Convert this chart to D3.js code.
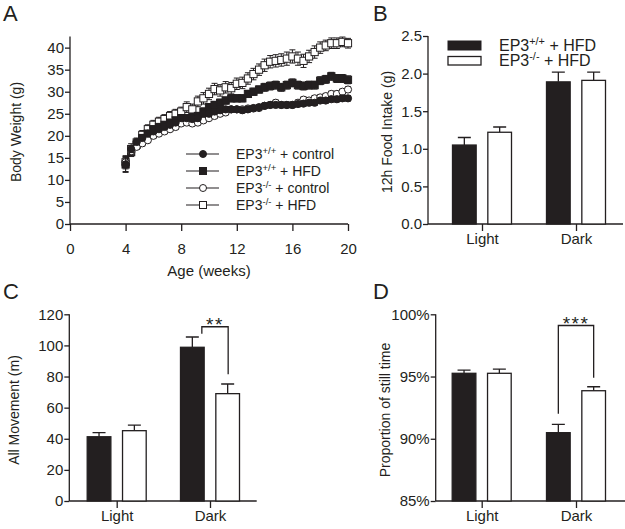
<!DOCTYPE html>
<html><head><meta charset="utf-8">
<script src="https://cdn.jsdelivr.net/npm/d3@7"></script>
<style>
html,body{margin:0;padding:0;background:#fff;}
text{font-family:"Liberation Sans",Arial,sans-serif;fill:#231f20;}
</style></head>
<body><svg id="c" width="625" height="529"></svg>
<script>
// ---------- Panel A data ----------
const weeks = [4,4.4,4.8,5.2,5.6,6,6.4,6.8,7.2,7.6,8,8.4,8.8,9.2,9.6,10,10.4,10.8,11.2,11.6,12,12.4,12.8,13.2,13.6,14,14.4,14.8,15.2,15.6,16,16.4,16.8,17.2,17.6,18,18.4,18.8,19.2,19.6,20];
const wtControl = [13.5,17,18.6,19.5,20.5,21,21.5,22,22.5,23,24,24,23.8,24,25,25,25.5,25.8,26,26,26,25.8,26,26.3,26.5,26.8,27,27,27,27,27,27.2,27.3,27.5,27.5,28,28,28.3,28.3,28.5,28.5];
const wtControlErr = [1.6,0.8,0.6,0.6,0.5,0.5,0.5,0.5,0.5,0.5,0.6,0.6,0.6,0.6,0.6,0.6,0.6,0.6,0.6,0.6,0.6,0.6,0.6,0.6,0.6,0.6,0.6,0.6,0.6,0.6,0.6,0.6,0.6,0.6,0.6,0.6,0.6,0.6,0.6,0.6,0.6];
const wtHFD = [13.5,16.3,18,19.5,20.5,21.5,22,22.5,23,23.5,24,24,24.2,24.5,25.5,26.5,27,27.5,28,28.5,28.5,28.5,29.5,30,30.5,31,31.3,31.5,31,31.5,32,31.5,31.3,31.5,31.5,32.5,32.8,33.5,33,33,32.7];
const wtHFDErr = [1.8,1,0.8,0.7,0.7,0.7,0.7,0.7,0.7,0.7,0.8,0.8,0.8,0.8,0.8,0.8,0.8,0.8,0.8,0.8,0.8,0.8,0.8,0.8,0.8,0.9,0.9,0.9,0.9,0.9,0.9,0.9,0.9,0.9,0.9,0.9,0.9,0.9,0.9,0.9,0.9];
const koControl = [14,16.5,17.5,18.3,19,20,20.5,21,21.5,22,22.8,23,22.8,23,23.5,24,24.5,25,25.3,26,26,26,26.2,26.2,26.3,26.8,27,27.5,27,27,27,27.5,28.2,28,28.5,28.7,29,29.5,29.5,30,30.5];
const koControlErr = [1.2,0.8,0.6,0.6,0.5,0.5,0.5,0.5,0.5,0.5,0.5,0.5,0.5,0.5,0.5,0.5,0.5,0.5,0.5,0.5,0.5,0.5,0.5,0.5,0.5,0.5,0.5,0.6,0.6,0.6,0.6,0.6,0.6,0.6,0.6,0.6,0.6,0.6,0.6,0.6,0.6];
const koHFD = [14,17,18.5,20.2,21.5,22.5,23.2,23.8,24.5,25,25.5,26.5,26,27.8,28.5,29.5,30.6,30.3,31,30.8,31.8,32,33,34,35,36,36.8,37,37.2,37.5,38,37.5,37,38,39,40,40.5,41,41,41.3,41];
const koHFDErr = [1.5,1.2,1,1,1,1,1,1,1,1,1,1.2,1.2,1.2,1.3,1.3,1.3,1.3,1.3,1.3,1.3,1.3,1.3,1.3,1.3,1.4,1.4,1.4,1.4,1.5,1.5,1.5,1.5,1.4,1.4,1.3,1.2,1.2,1.2,1.1,1.1];
const xTicksA = [0,4,8,12,16,20];
const yTicksA = [0,5,10,15,20,25,30,35,40];

// ---------- Bar panels data ----------
const periods = ["Light","Dark"];
const genotypes = ["wt","ko"];
const foodWt = [1.05,1.89], foodWtErr = [0.10,0.13];
const foodKo = [1.22,1.91], foodKoErr = [0.07,0.11];
const moveWt = [41.3,98.8], moveWtErr = [2.6,6.6];
const moveKo = [45.2,69.0], moveKoErr = [3.6,6.2];
const stillWt = [95.26,90.49], stillWtErr = [0.26,0.67];
const stillKo = [95.26,93.86], stillKoErr = [0.34,0.32];
const yTicksB = [0,0.5,1.0,1.5,2.0,2.5];
const yTicksC = [0,20,40,60,80,100,120];
const yTicksD = [85,90,95,100];

const svg = d3.select("#c");
const INK = "#231f20";
const FS = 15;   // tick labels
const LS = 14;   // axis titles / legend A

function styleAxis(g){
  g.selectAll("path.domain").remove();
  g.selectAll("line").attr("stroke",INK).attr("stroke-width",1.3);
  g.selectAll("text").style("font-size",FS+"px").attr("fill",INK);
}
function label(x,y,txt,size,rot){
  const t = svg.append("text").attr("font-size",size)
    .attr("text-anchor","middle").text(txt);
  if(rot) t.attr("transform",`translate(${x},${y}) rotate(-90)`).attr("dy","0.35em");
  else t.attr("x",x).attr("y",y);
  return t;
}
function letter(x,y,t){ svg.append("text").attr("x",x).attr("y",y).attr("font-size",22).text(t); }
function supText(sel,x,y,base,sup,rest,size){
  const t = sel.append("text").attr("x",x).attr("y",y).attr("font-size",size);
  t.append("tspan").text(base);
  t.append("tspan").attr("dy",-size*0.36).attr("font-size",size*0.68).text(sup);
  t.append("tspan").attr("dy",size*0.36).text(rest);
}

// ================= Panel A =================
const xA = d3.scaleLinear().domain([0,20]).range([70,348]);
const yA = d3.scaleLinear().domain([0,42.5]).range([224,36.6]);
svg.append("line").attr("x1",70).attr("x2",348).attr("y1",224).attr("y2",224).attr("stroke",INK).attr("stroke-width",1.3);
svg.append("line").attr("x1",70).attr("x2",70).attr("y1",yA(42.5)).attr("y2",224).attr("stroke",INK).attr("stroke-width",1.3);
svg.append("g").attr("transform","translate(0,224)")
  .call(d3.axisBottom(xA).tickValues(xTicksA).tickSize(7).tickPadding(12).tickFormat(d3.format("d"))).call(styleAxis);
svg.append("g").attr("transform","translate(70,0)")
  .call(d3.axisLeft(yA).tickValues(yTicksA).tickSize(5).tickPadding(1).tickFormat(d3.format("d"))).call(styleAxis);
label(209,276,"Age (weeks)",15);
label(16,132,"Body Weight (g)",LS,true);
letter(3,21,"A");

const seriesA = [
  {name:"koHFD", vals:koHFD, err:koHFDErr, shape:"square", fill:"#fff"},
  {name:"wtHFD", vals:wtHFD, err:wtHFDErr, shape:"square", fill:INK},
  {name:"koControl", vals:koControl, err:koControlErr, shape:"circle", fill:"#fff"},
  {name:"wtControl", vals:wtControl, err:wtControlErr, shape:"circle", fill:INK}
];
const lineA = d3.line().x((d,i)=>xA(weeks[i])).y(d=>yA(d));
seriesA.forEach(s=>{
  const g = svg.append("g");
  const pts = s.vals.map((v,i)=>({x:weeks[i],v:v,e:s.err[i]}));
  g.selectAll("path.eb").data(pts).enter().append("path")
    .attr("d",d=>{const x=xA(d.x),y1=yA(d.v+d.e),y2=yA(d.v-d.e);
      return `M${x},${y1}V${y2}M${x-3},${y1}H${x+3}M${x-3},${y2}H${x+3}`;})
    .attr("stroke",INK).attr("stroke-width",1).attr("fill","none");
  g.append("path").attr("d",lineA(s.vals)).attr("fill","none").attr("stroke",INK).attr("stroke-width",1.1);
  if(s.shape==="circle"){
    g.selectAll("circle").data(pts).enter().append("circle")
      .attr("cx",d=>xA(d.x)).attr("cy",d=>yA(d.v)).attr("r",3.6)
      .attr("fill",s.fill).attr("stroke",INK).attr("stroke-width",1);
  } else {
    g.selectAll("rect").data(pts).enter().append("rect")
      .attr("x",d=>xA(d.x)-3.6).attr("y",d=>yA(d.v)-3.6).attr("width",7.2).attr("height",7.2)
      .attr("fill",s.fill).attr("stroke",INK).attr("stroke-width",1);
  }
});
// legend A
const legA = [
  {sup:"+/+", rest:" + control", shape:"circle", fill:INK, y:154},
  {sup:"+/+", rest:" + HFD", shape:"square", fill:INK, y:171},
  {sup:"-/-", rest:" + control", shape:"circle", fill:"#fff", y:188},
  {sup:"-/-", rest:" + HFD", shape:"square", fill:"#fff", y:205}
];
legA.forEach(l=>{
  svg.append("line").attr("x1",186).attr("x2",219).attr("y1",l.y).attr("y2",l.y).attr("stroke",INK).attr("stroke-width",1.1);
  if(l.shape==="circle") svg.append("circle").attr("cx",203).attr("cy",l.y).attr("r",3.5).attr("fill",l.fill).attr("stroke",INK);
  else svg.append("rect").attr("x",199.5).attr("y",l.y-3.5).attr("width",7).attr("height",7).attr("fill",l.fill).attr("stroke",INK);
  supText(svg,236,l.y+5,"EP3",l.sup,l.rest,LS);
});

// ================= Bar panel helper =================
function barPanel(o){
  const x = d3.scalePoint().domain(periods).range(o.centers);
  const inner = d3.scaleBand().domain(genotypes).range([-29.5,29.5]).paddingInner(0.33);
  const y = d3.scaleLinear().domain(o.ydom).range(o.yrange);
  svg.append("line").attr("x1",o.x0).attr("x2",o.x1).attr("y1",o.yrange[0]).attr("y2",o.yrange[0]).attr("stroke",INK).attr("stroke-width",1.3);
  svg.append("line").attr("x1",o.x0).attr("x2",o.x0).attr("y1",o.yrange[1]).attr("y2",o.yrange[0]).attr("stroke",INK).attr("stroke-width",1.3);
  svg.append("g").attr("transform",`translate(0,${o.yrange[0]})`)
    .call(d3.axisBottom(x).tickSize(7).tickPadding(2.5)).call(styleAxis);
  svg.append("g").attr("transform",`translate(${o.x0},0)`)
    .call(d3.axisLeft(y).tickValues(o.yticks).tickSize(5).tickPadding(1).tickFormat(o.fmt)).call(styleAxis);
  const data = [];
  periods.forEach((p,i)=>{
    data.push({p:p,g:"wt",v:o.wt[i],e:o.wtErr[i],fill:INK});
    data.push({p:p,g:"ko",v:o.ko[i],e:o.koErr[i],fill:"#fff"});
  });
  const bars = svg.append("g");
  bars.selectAll("path.eb").data(data).enter().append("path")
    .attr("d",d=>{const cx=x(d.p)+inner(d.g)+inner.bandwidth()/2, yt=y(d.v+d.e);
      return `M${cx},${y(d.v)}V${yt}M${cx-6.5},${yt}H${cx+6.5}`;})
    .attr("stroke",INK).attr("stroke-width",1.3).attr("fill","none");
  bars.selectAll("rect").data(data).enter().append("rect")
    .attr("x",d=>x(d.p)+inner(d.g)).attr("width",inner.bandwidth())
    .attr("y",d=>y(d.v)).attr("height",d=>y(o.ydom[0])-y(d.v))
    .attr("fill",d=>d.fill).attr("stroke",INK).attr("stroke-width",1.3);
  return {x,inner,y};
}

// ================= Panel B =================
barPanel({centers:[482,576],x0:428,x1:623,ydom:[0,2.5],yrange:[224,36],yticks:yTicksB,fmt:d3.format(".1f"),
  wt:foodWt,wtErr:foodWtErr,ko:foodKo,koErr:foodKoErr});
letter(373,21,"B");
label(387.5,132,"12h Food Intake (g)",LS,true);
svg.append("rect").attr("x",448).attr("y",41).attr("width",33).attr("height",9).attr("fill",INK).attr("stroke",INK);
svg.append("rect").attr("x",448).attr("y",56.5).attr("width",33).attr("height",8.5).attr("fill","#fff").attr("stroke",INK).attr("stroke-width",1.3);
supText(svg,499,50.5,"EP3","+/+"," + HFD",16);
supText(svg,499,66,"EP3","-/-"," + HFD",16);

// ================= Panel C =================
const pc = barPanel({centers:[116.7,210],x0:69.3,x1:256.7,ydom:[0,120],yrange:[501,314.3],yticks:yTicksC,fmt:d3.format("d"),
  wt:moveWt,wtErr:moveWtErr,ko:moveKo,koErr:moveKoErr});
letter(3,299,"C");
label(14.5,410,"All Movement (m)",LS,true);
{
  const cxL = pc.x("Dark")+pc.inner("wt")+pc.inner.bandwidth()/2+9.5;
  const cxR = pc.x("Dark")+pc.inner("ko")+pc.inner.bandwidth()/2+0.5;
  const top = pc.y(112);
  svg.append("path").attr("d",`M${cxL},${pc.y(107.5)}V${top}H${cxR}V${pc.y(81.5)}`)
    .attr("fill","none").attr("stroke",INK).attr("stroke-width",1.3);
  svg.append("text").attr("x",(cxL+cxR)/2).attr("y",top+4.5).attr("text-anchor","middle")
    .attr("font-size",19).attr("letter-spacing",1.5).text("**");
}

// ================= Panel D =================
const pd = barPanel({centers:[481.7,576],x0:435.7,x1:625,ydom:[85,100],yrange:[501,314.3],yticks:yTicksD,fmt:d=>d+"%",
  wt:stillWt,wtErr:stillWtErr,ko:stillKo,koErr:stillKoErr});
letter(373,299,"D");
label(385,410,"Proportion of still time",LS,true);
{
  const cxL = pd.x("Dark")+pd.inner("wt")+pd.inner.bandwidth()/2;
  const cxR = pd.x("Dark")+pd.inner("ko")+pd.inner.bandwidth()/2;
  const top = pd.y(99.1);
  svg.append("path").attr("d",`M${cxL},${pd.y(92)}V${top}H${cxR}V${pd.y(94.9)}`)
    .attr("fill","none").attr("stroke",INK).attr("stroke-width",1.3);
  svg.append("text").attr("x",(cxL+cxR)/2).attr("y",top+4.5).attr("text-anchor","middle")
    .attr("font-size",19).attr("letter-spacing",1.5).text("***");
}
</script></body></html>
